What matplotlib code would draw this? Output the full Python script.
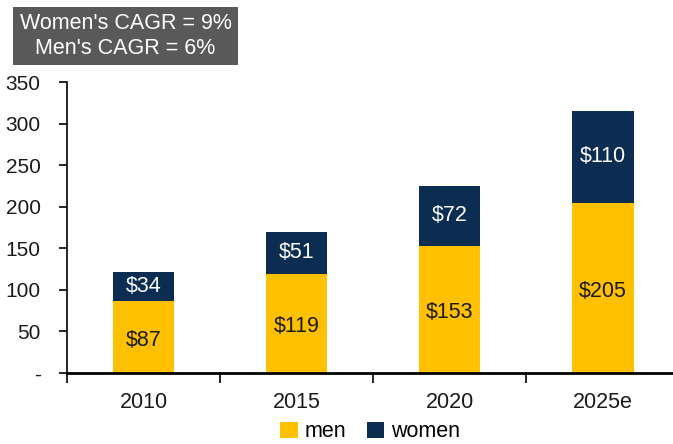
import matplotlib
matplotlib.use("Agg")
import matplotlib.pyplot as plt
import numpy as np
from matplotlib import font_manager

# fuente estrecha tipo Arial Narrow si existe
nombres = [f.name for f in font_manager.fontManager.ttflist]
fam = 'Liberation Sans Narrow' if 'Liberation Sans Narrow' in nombres else 'Liberation Sans'
plt.rcParams['font.family'] = [fam, 'DejaVu Sans']

years = ['2010', '2015', '2020', '2025e']
men = [87, 119, 153, 205]
women = [34, 51, 72, 110]
yticks = [0, 50, 100, 150, 200, 250, 300, 350]
ytick_labels = ['-', '50', '100', '150', '200', '250', '300', '350']

c_men = '#FFC000'
c_women = '#0C2D52'

fig = plt.figure(figsize=(6.73, 4.44), dpi=100)
ax = fig.add_axes([0.0996, 0.16, 0.91, 0.655])

x = np.arange(len(years))
w = 0.40
ax.bar(x, men, w, color=c_men, label='men', zorder=2)
ax.bar(x, women, w, bottom=men, color=c_women, label='women', zorder=2)

for i in range(len(years)):
    ax.text(x[i], men[i] / 2 - 4, f'${men[i]}', ha='center', va='center',
            fontsize=15.5, color='#1a1a1a')
    ax.text(x[i], men[i] + women[i] / 2, f'${women[i]}', ha='center', va='center',
            fontsize=15.5, color='white')

ax.set_xlim(-0.5, 3.5)
ax.set_ylim(0, 350)
ax.set_yticks(yticks)
ax.set_yticklabels(ytick_labels, fontsize=15, color='#1a1a1a')
ax.tick_params(axis='y', length=6, width=1.2, pad=13)

# ticks del eje x entre categorías
ax.set_xticks(np.arange(-0.5, 3.6, 1.0))
ax.set_xticklabels([])
ax.set_xticks(x, minor=True)
ax.set_xticklabels(years, minor=True, fontsize=15.5, color='#1a1a1a')
ax.tick_params(axis='x', which='major', length=7, width=1.2, direction='out')
ax.tick_params(axis='x', which='minor', length=0, pad=14)

for s in ['top', 'right']:
    ax.spines[s].set_visible(False)
ax.spines['left'].set_linewidth(1.2)
ax.spines['bottom'].set_linewidth(2)

leg = fig.legend(loc='lower center', bbox_to_anchor=(0.55, -0.04), ncol=2, frameon=False,
                 fontsize=15.5, handlelength=0.8, handleheight=0.8, handletextpad=0.3,
                 columnspacing=1.0)

fig.text(0.1865, 0.919, "Women's CAGR = 9%\nMen's CAGR = 6%", ha='center', va='center',
         fontsize=15.5, color='white', linespacing=1.2,
         bbox=dict(boxstyle='square,pad=0.3', facecolor='#595959', edgecolor='none'))

fig.savefig('out.png', dpi=100)
